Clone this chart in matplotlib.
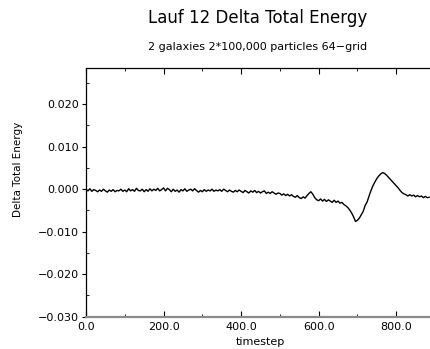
import matplotlib
matplotlib.use("Agg")
import matplotlib.pyplot as plt
import numpy as np
from matplotlib.ticker import MultipleLocator, FuncFormatter

plt.rcParams["font.family"] = ["DejaVu Sans"]

# timesteps every 5 steps, 0 .. 885
timestep = np.arange(0, 890, 5)

# Delta total energy (units of 1e-3)
delta_energy_milli = [
    # 0 - 95
    0.0, -0.4, 0.1, -0.5, -0.1, -0.3, -0.6, -0.2, -0.5, 0.0,
    -0.4, -0.7, -0.2, -0.5, -0.1, -0.6, -0.3, -0.4, 0.0, -0.5,
    # 100 - 195
    -0.2, -0.6, 0.1, -0.4, -0.1, -0.5, 0.2, -0.3, -0.4, 0.0,
    -0.6, -0.1, -0.5, 0.1, -0.4, 0.0, -0.3, 0.2, -0.4, -0.1,
    # 200 - 295
    0.3, -0.4, 0.2, -0.1, -0.6, 0.0, -0.5, -0.2, -0.7, -0.1,
    -0.4, 0.1, -0.5, -0.2, 0.0, -0.4, 0.1, -0.3, -0.7, -0.3,
    # 300 - 395
    -0.6, -0.1, -0.5, -0.2, -0.4, 0.0, -0.5, -0.2, -0.4, -0.1,
    -0.5, 0.0, -0.3, -0.6, -0.2, -0.5, -0.7, -0.3, -0.6, -0.2,
    # 400 - 495
    -0.5, -0.8, -0.3, -0.6, -0.9, -0.4, -0.7, -0.3, -0.8, -0.5,
    -0.9, -0.6, -0.4, -1.0, -0.7, -1.0, -0.6, -0.9, -1.2, -0.9,
    # 500 - 595
    -1.0, -1.4, -1.1, -1.5, -1.2, -1.6, -1.3, -1.7, -1.9, -1.5,
    -2.0, -2.2, -1.8, -2.1, -1.5, -1.0, -0.6, -1.2, -2.0, -2.5,
    # 600 - 695
    -2.7, -2.3, -2.8, -2.4, -2.9, -2.5, -2.8, -3.1, -2.6, -3.1,
    -2.8, -3.3, -3.1, -3.6, -3.9, -4.3, -4.9, -5.6, -6.5, -7.6,
    # 700 - 795
    -7.3, -6.8, -6.0, -5.2, -3.8, -3.0, -1.6, -0.3, 0.8, 1.7,
    2.5, 3.1, 3.6, 3.9, 3.7, 3.3, 2.8, 2.3, 1.8, 1.3,
    # 800 - 885
    0.8, 0.3, -0.3, -0.8, -1.1, -1.3, -1.6, -1.3, -1.6, -1.4,
    -1.8, -1.5, -1.8, -1.6, -2.0, -1.7, -2.0, -1.9,
]
delta_energy = np.array(delta_energy_milli) * 1e-3

fig = plt.figure(figsize=(4.30, 3.49), dpi=100)
ax = fig.add_axes([0.2, 0.0926, 0.8116, 0.7124])

ax.plot(timestep, delta_energy, color="black", linewidth=1.0)

ax.set_xlim(0, 900)
ax.set_ylim(-0.030, 0.0285)

ax.xaxis.set_major_locator(MultipleLocator(200))
ax.xaxis.set_minor_locator(MultipleLocator(100))
ax.yaxis.set_major_locator(MultipleLocator(0.01))
ax.yaxis.set_minor_locator(MultipleLocator(0.005))
ax.xaxis.set_major_formatter(FuncFormatter(lambda v, _: f"{v:.1f}"))
ax.yaxis.set_major_formatter(
    FuncFormatter(lambda v, _: f"{v:.3f}".replace("-", "\u2212") if abs(v) > 1e-9 else "0.000"))

ax.tick_params(axis="x", which="major", direction="in", top=True, length=4,
               labelsize=8, pad=4)
ax.tick_params(axis="x", which="minor", direction="in", top=True, length=2)
ax.tick_params(axis="y", which="major", direction="out", length=3, labelsize=8, pad=2)
ax.tick_params(axis="y", which="minor", direction="in", length=2)

ax.spines["right"].set_visible(False)
ax.spines["bottom"].set_color("#8a8a8a")
ax.spines["bottom"].set_linewidth(1.6)
ax.spines["left"].set_linewidth(0.9)
ax.spines["top"].set_linewidth(0.9)

ax.set_xlabel("timestep", fontsize=8, labelpad=3.5)
fig.text(0.042, 0.515, "Delta Total Energy", rotation=90, fontsize=7.5,
         ha="center", va="center")

fig.text(0.6, 0.948, "Lauf 12 Delta Total Energy", fontsize=12,
         ha="center", va="center")
fig.text(0.6, 0.865, "2 galaxies 2*100,000 particles 64\u2212grid", fontsize=8,
         ha="center", va="center")

fig.savefig("out.png", dpi=100)
